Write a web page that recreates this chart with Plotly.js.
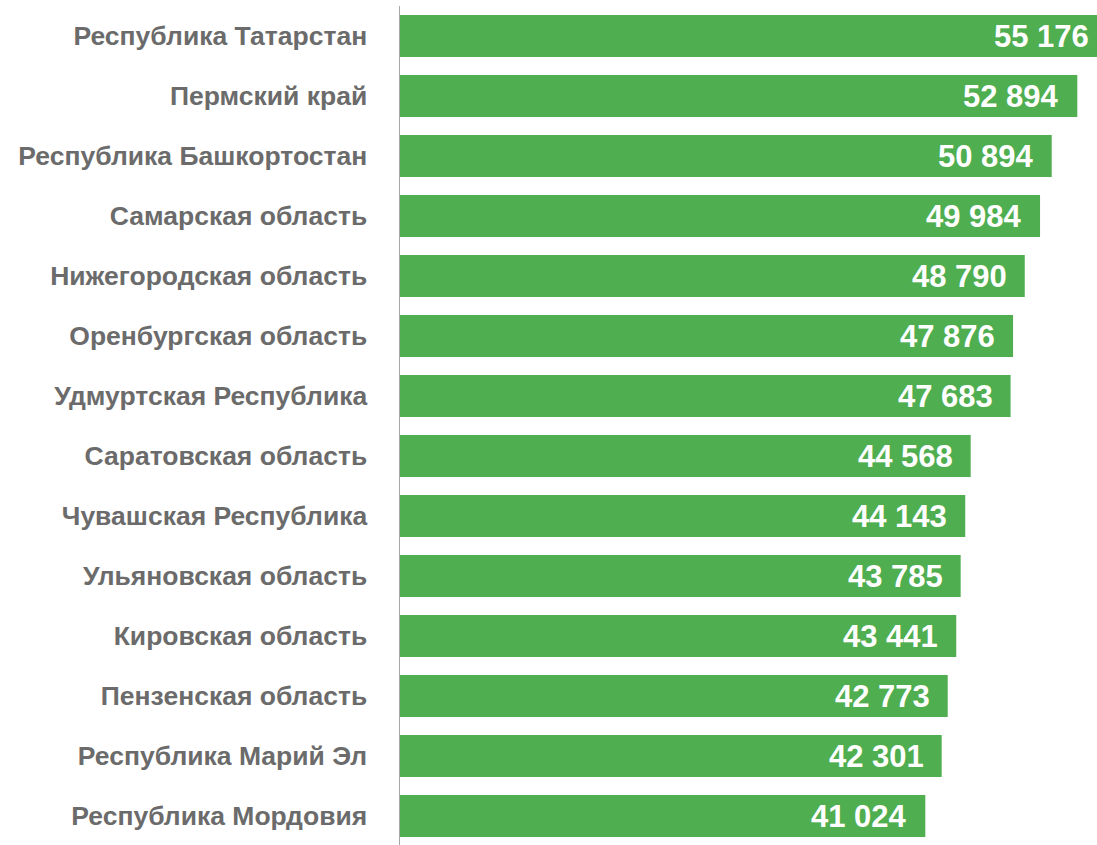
<!DOCTYPE html>
<html>
<head>
<meta charset="utf-8">
<script src="https://cdn.plot.ly/plotly-3.0.1.min.js"></script>
<style>
html,body{margin:0;padding:0;overflow:hidden;background:#fff;}
#chart{width:1120px;height:846px;}
</style>
</head>
<body>
<div id="chart"></div>
<script>
const regions = [
  "Республика Татарстан",
  "Пермский край",
  "Республика Башкортостан",
  "Самарская область",
  "Нижегородская область",
  "Оренбургская область",
  "Удмуртская Республика",
  "Саратовская область",
  "Чувашская Республика",
  "Ульяновская область",
  "Кировская область",
  "Пензенская область",
  "Республика Марий Эл",
  "Республика Мордовия"
];
const values = [55176, 52894, 50894, 49984, 48790, 47876, 47683, 44568, 44143, 43785, 43441, 42773, 42301, 41024];

function fmt(v){ return String(v).replace(/\B(?=(\d{3})+(?!\d))/g, " "); }

const trace = {
  type: "bar",
  orientation: "h",
  x: values,
  y: regions,
  marker: {color: "#4fae50"},
  hoverinfo: "none",
  cliponaxis: false
};

const annotations = values.map((v, i) => ({
  x: v, y: regions[i], xref: "x", yref: "y",
  text: fmt(v), showarrow: false, xanchor: "right", yanchor: "middle",
  xshift: -16,
  font: {family: "Liberation Sans, Arial, sans-serif", size: 31, color: "#ffffff", weight: "bold"}
}));

const layout = {
  width: 1120, height: 846,
  margin: {l: 400, r: 0, t: 6, b: 0},
  paper_bgcolor: "#ffffff", plot_bgcolor: "#ffffff",
  bargap: 0.3,
  showlegend: false,
  xaxis: {range: [0, 56228], visible: false, fixedrange: true},
  yaxis: {
    type: "category", autorange: "reversed",
    showline: true, linecolor: "#a6a6a6", linewidth: 1.5,
    ticks: "", showgrid: false, zeroline: false,
    ticklabelstandoff: 26,
    tickfont: {family: "Liberation Sans, Arial, sans-serif", size: 26.5, color: "#6b6b6b", weight: "bold"}
  },
  annotations: annotations
};

Plotly.newPlot("chart", [trace], layout, {staticPlot: true, displayModeBar: false});
</script>
</body>
</html>
